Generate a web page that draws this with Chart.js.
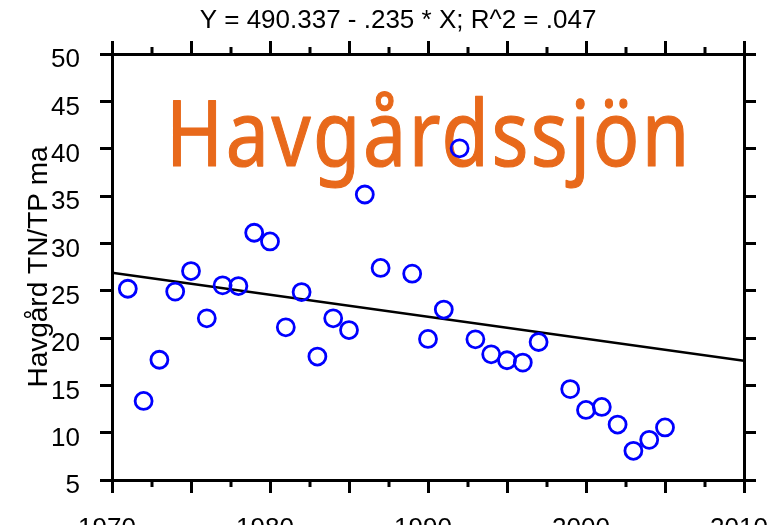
<!DOCTYPE html>
<html>
<head>
<meta charset="utf-8">
<script src="https://cdn.jsdelivr.net/npm/chart.js@4.4.1/dist/chart.umd.min.js"></script>
<style>
  html, body { margin: 0; padding: 0; background: #fff; }
  #wrap { width: 770px; height: 525px; }
</style>
</head>
<body>
<div id="wrap"><canvas id="myChart"></canvas></div>
<script>
// data
const years = [1971, 1972, 1973, 1974, 1975, 1976, 1977, 1978, 1979, 1980, 1981,
  1982, 1983, 1984, 1985, 1986, 1987, 1989, 1990, 1991, 1992, 1993, 1994, 1995,
  1996, 1997, 1999, 2000, 2001, 2002, 2003, 2004, 2005];
const ratio = [25.2, 13.35, 17.7, 24.9, 27.07, 22.08, 25.56, 25.49, 31.12, 30.2,
  21.13, 24.85, 18.04, 22.08, 20.84, 35.16, 27.4, 26.8, 19.9, 23.0, 40.04, 19.86,
  18.28, 17.65, 17.4, 19.58, 14.6, 12.4, 12.72, 10.86, 8.08, 9.24, 10.55];
const fitYears = [1970, 2010];
const fitValues = [26.9, 17.6];
const minorYears = [1972.5, 1977.5, 1982.5, 1987.5, 1992.5, 1997.5, 2002.5, 2007.5];

const titleText = "Y = 490.337 - .235 * X; R^2 = .047";
const lakeName = "Havgårdssjön";
const yLabel = "Havgård TN/TP ma";

const font = "'Liberation Sans', Arial, sans-serif";

// title, lake name and the short minor ticks
const extras = {
  id: "extras",
  beforeDatasetsDraw(chart) {
    const c = chart.ctx;
    c.save();
    c.fillStyle = "#000";
    c.font = "26px " + font;
    c.textAlign = "center";
    c.textBaseline = "middle";
    c.fillText(titleText, 398, 21);

    c.font = "92px 'Noto Sans', sans-serif";
    c.letterSpacing = "3px";
    c.textAlign = "left";
    c.textBaseline = "alphabetic";
    const w = c.measureText(lakeName).width;
    c.translate(166, 166);
    c.scale(526 / w, 1);
    c.fillStyle = "#e8691b";
    c.strokeStyle = "#e8691b";
    c.lineWidth = 1.2;
    c.lineJoin = "round";
    c.fillText(lakeName, 0, 0);
    c.strokeText(lakeName, 0, 0);
    c.restore();

    c.save();
    c.strokeStyle = "#000";
    c.lineWidth = 3;
    const x = chart.scales.x;
    const area = chart.chartArea;
    minorYears.forEach((yr) => {
      const px = Math.round(x.getPixelForValue(yr));
      c.beginPath();
      c.moveTo(px, area.bottom);
      c.lineTo(px, area.bottom + 7);
      c.moveTo(px, area.top);
      c.lineTo(px, area.top - 7);
      c.stroke();
    });
    c.restore();
  }
};

const axisBorder = { display: true, color: "#000", width: 3 };
const tickGrid = (len) => ({
  drawOnChartArea: false, tickLength: len, lineWidth: 3, tickWidth: 3,
  color: "#000", tickColor: "#000"
});

new Chart(document.getElementById("myChart"), {
  type: "scatter",
  plugins: [extras],
  data: {
    datasets: [
      {
        type: "scatter",
        data: years.map((y, i) => ({ x: y, y: ratio[i] })),
        pointRadius: 8.5,
        pointHoverRadius: 8.5,
        pointBorderWidth: 2.8,
        pointBorderColor: "#0000ff",
        pointBackgroundColor: "rgba(0,0,0,0)",
        order: 1
      },
      {
        type: "line",
        data: fitYears.map((y, i) => ({ x: y, y: fitValues[i] })),
        borderColor: "#000",
        borderWidth: 2.6,
        pointRadius: 0,
        fill: false,
        order: 2
      }
    ]
  },
  options: {
    responsive: true,
    maintainAspectRatio: false,
    animation: false,
    layout: { padding: 0 },
    plugins: {
      legend: { display: false },
      title: { display: false },
      tooltip: { enabled: false }
    },
    scales: {
      x: {
        type: "linear",
        position: "bottom",
        min: 1970,
        max: 2010,
        border: axisBorder,
        grid: tickGrid(13),
        ticks: {
          stepSize: 5,
          color: "#000",
          font: { family: font, size: 26 },
          padding: 20,
          labelOffset: -5,
          maxRotation: 0,
          autoSkip: false,
          callback: (v) => (v % 10 === 0 ? String(v) : "")
        },
        afterFit: (s) => { s.height = 45; s.paddingLeft = 0; s.paddingRight = 0; }
      },
      x2: {
        type: "linear",
        position: "top",
        min: 1970,
        max: 2010,
        border: axisBorder,
        grid: tickGrid(13),
        ticks: { stepSize: 5, display: false },
        afterFit: (s) => { s.height = 54; s.paddingLeft = 0; s.paddingRight = 0; }
      },
      y: {
        position: "left",
        min: 5,
        max: 50,
        border: axisBorder,
        grid: tickGrid(12),
        ticks: {
          stepSize: 5,
          color: "#000",
          font: { family: font, size: 26 },
          padding: 20,
          labelOffset: 6
        },
        title: {
          display: true,
          text: yLabel,
          color: "#000",
          font: { family: font, size: 28 },
          padding: { top: 22, bottom: 0 }
        },
        afterFit: (s) => { s.width = 112; s.paddingTop = 0; s.paddingBottom = 0; }
      },
      y2: {
        position: "right",
        min: 5,
        max: 50,
        border: axisBorder,
        grid: tickGrid(12),
        ticks: { stepSize: 5, display: false },
        afterFit: (s) => { s.width = 26; s.paddingTop = 0; s.paddingBottom = 0; }
      }
    }
  }
});
</script>
</body>
</html>
